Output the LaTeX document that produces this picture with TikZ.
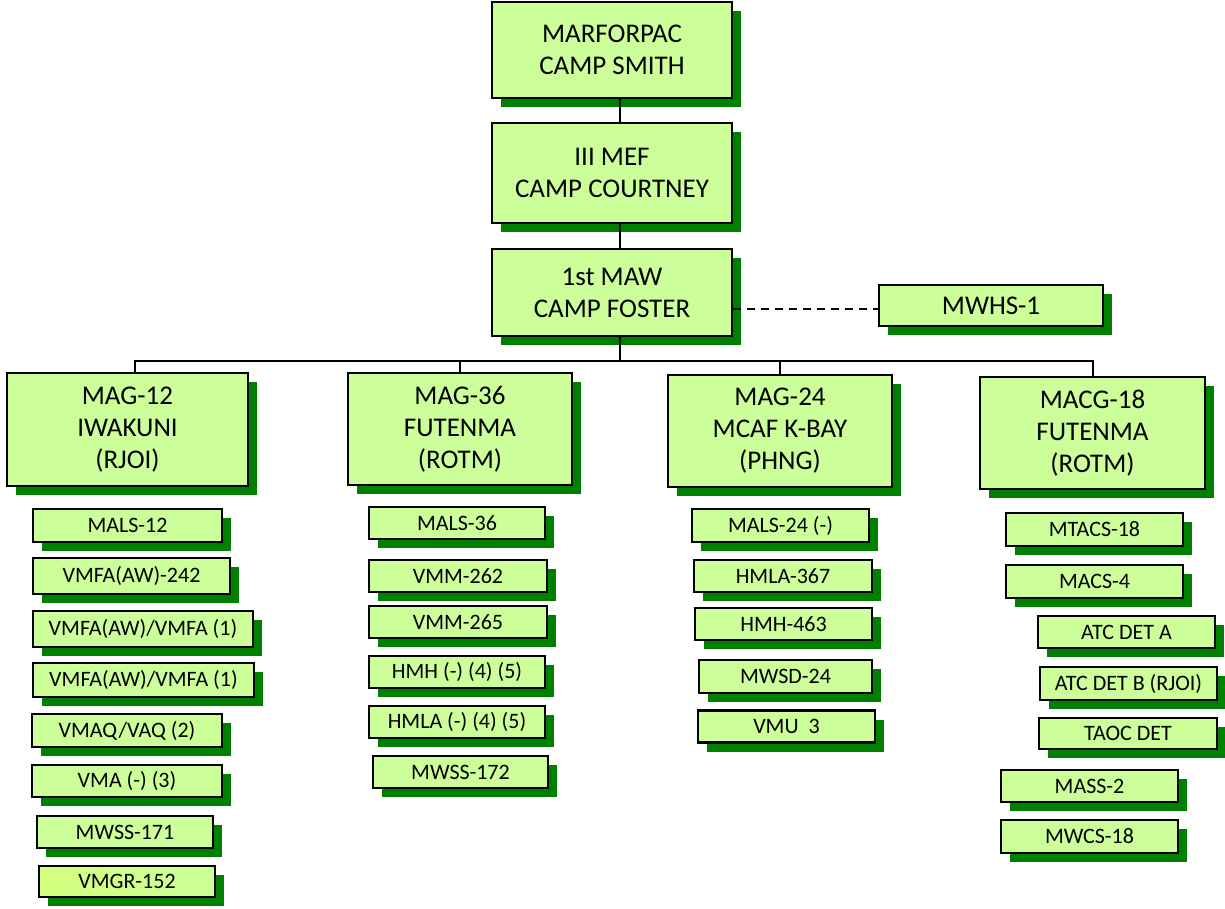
\documentclass[tikz,border=0pt]{standalone}
\usepackage{fontspec}
\setmainfont{Carlito}
\usetikzlibrary{shadows}
\definecolor{boxfill}{RGB}{204,255,153}
\definecolor{shadowgreen}{RGB}{0,128,0}
\definecolor{vmgrleft}{RGB}{212,255,125}
\begin{document}
\begin{tikzpicture}[x=1pt, y=-1pt,
  unitbox/.style={draw, line width=2.4pt, fill=boxfill, inner sep=0pt,
    drop shadow={shadow xshift=9pt, shadow yshift=-9pt, fill=shadowgreen, opacity=1}},
  hqbox/.style={unitbox, align=center, font=\fontsize{27}{32}\selectfont},
  sqnbox/.style={unitbox, minimum width=177, minimum height=32, font=\fontsize{22}{26}\selectfont},
  link/.style={line width=2pt}]
\useasboundingbox (0,0) rectangle (1225,908);

% command chain
\node[hqbox, minimum width=240, minimum height=96] (marforpac) at (612,50) {MARFORPAC\\CAMP SMITH};
\node[hqbox, minimum width=240, minimum height=100] (iiimef) at (612,173) {III MEF\\CAMP COURTNEY};
\node[hqbox, minimum width=240, minimum height=87] (firstmaw) at (612,292.5) {1st MAW\\CAMP FOSTER};
\node[hqbox, minimum width=224, minimum height=41] (mwhs) at (991,305.5) {MWHS-1};

% groups
\node[hqbox, minimum width=241, minimum height=113] (mag12) at (127.5,429.5) {MAG-12\\IWAKUNI\\(RJOI)};
\node[hqbox, minimum width=224, minimum height=112] (mag36) at (460,429) {MAG-36\\FUTENMA\\(ROTM)};
\node[hqbox, minimum width=224, minimum height=112] (mag24) at (780,431) {MAG-24\\MCAF K-BAY\\(PHNG)};
\node[hqbox, minimum width=225, minimum height=112] (macg18) at (1092.5,433) {MACG-18\\FUTENMA\\(ROTM)};

% MAG-12 squadrons
\node[sqnbox, minimum width=189, minimum height=33] (mals12) at (127.5,525.5) {MALS-12};
\node[sqnbox, minimum width=197, minimum height=36] (vmfa242) at (131.5,576) {VMFA(AW)-242};
\node[sqnbox, minimum width=220, minimum height=36] (vmfaa) at (143,629) {VMFA(AW)/VMFA (1)};
\node[sqnbox, minimum width=221, minimum height=34] (vmfab) at (143.5,680) {VMFA(AW)/VMFA (1)};
\node[sqnbox, minimum width=190, minimum height=33] (vmaq) at (127,730.5) {VMAQ/VAQ (2)};
\node[sqnbox, minimum width=190] (vma) at (127,781) {VMA (-) (3)};
\node[sqnbox, minimum width=176] (mwss171) at (125,832) {MWSS-171};
\node[sqnbox, minimum width=176, minimum height=31, left color=vmgrleft, right color=boxfill] (vmgr152) at (127,881.5) {VMGR-152};

% MAG-36 squadrons
\node[sqnbox, minimum width=176] (mals36) at (457,523) {MALS-36};
\node[sqnbox, minimum width=178] (vmm262) at (458,576) {VMM-262};
\node[sqnbox, minimum width=178] (vmm265) at (458,622) {VMM-265};
\node[sqnbox, minimum width=176] (hmh) at (457,672) {HMH (-) (4) (5)};
\node[sqnbox, minimum width=176] (hmla) at (457,722) {HMLA (-) (4) (5)};
\node[sqnbox, minimum width=175] (mwss172) at (460.5,772) {MWSS-172};

% MAG-24 squadrons
\node[sqnbox, minimum height=33] (mals24) at (780.5,525.5) {MALS-24 (-)};
\node[sqnbox, minimum width=178] (hmla367) at (783,576) {HMLA-367};
\node[sqnbox] (hmh463) at (783.5,624) {HMH-463};
\node[sqnbox, minimum width=173, minimum height=33] (mwsd24) at (785.5,676.5) {MWSD-24};
\node[sqnbox] (vmu3) at (786.5,726.5) {VMU\ \ 3};

% MACG-18 units
\node[sqnbox, minimum height=33] (mtacs18) at (1094.5,529.5) {MTACS-18};
\node[sqnbox, minimum height=33] (macs4) at (1094.5,581.5) {MACS-4};
\node[sqnbox] (atca) at (1126.5,632) {ATC DET A};
\node[sqnbox, minimum height=33] (atcb) at (1128.5,683.5) {ATC DET B (RJOI)};
\node[sqnbox, minimum width=178, minimum height=31] (taoc) at (1128,733.5) {TAOC DET};
\node[sqnbox] (mass2) at (1089.5,786) {MASS-2};
\node[sqnbox, minimum height=33] (mwcs18) at (1089.5,836.5) {MWCS-18};

% connectors
\coordinate (trunk) at (620,0);
\coordinate (busL) at (135,361);
\coordinate (dashy) at (0,309);
\draw[link] (marforpac.south -| trunk) -- (iiimef.north -| trunk);
\draw[link] (iiimef.south -| trunk) -- (firstmaw.north -| trunk);
\draw[link] (firstmaw.south -| trunk) -- (trunk |- busL);
\draw[link] (busL |- mag12.north) -- (busL) -| (macg18.north);
\draw[link] (mag36.north |- busL) -- (mag36.north);
\draw[link] (mag24.north |- busL) -- (mag24.north);
\draw[link, dash pattern=on 8pt off 6pt] (firstmaw.east |- dashy) -- (mwhs.west |- dashy);
\end{tikzpicture}
\end{document}
